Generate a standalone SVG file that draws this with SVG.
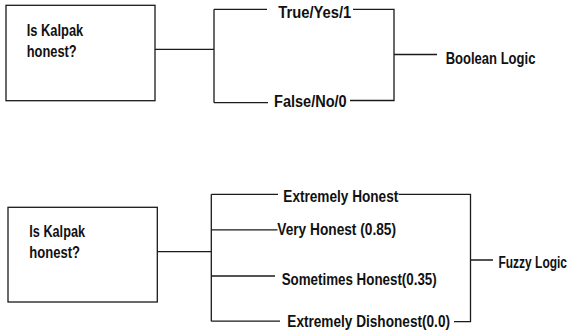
<svg xmlns="http://www.w3.org/2000/svg" width="573" height="334" viewBox="0 0 573 334">
<style>
.box{fill:#fff;stroke:#1a1a1a;stroke-width:1.3}
.ln{fill:none;stroke:#1a1a1a;stroke-width:1.3}
text{font-family:"Liberation Sans",Arial,sans-serif;font-weight:bold;font-size:16px;fill:#111}
</style>
<rect width="573" height="334" fill="#fff"/>
<g id="connectors">
<path class="ln" d="M155 49.3H214M214 9.3V102.7M214 9.3H267M214 102.7H268M353 9.3H394V100.5H350M394 54.5H437"/>
<path class="ln" d="M157 251.7H211.3M211.3 194.3V321.2M211.3 194.3H278M211.3 229.8H277.5M211.3 276H275M211.3 321.2H280M398.5 194.3H470.5V321.7H454M470.5 260H493"/>
</g>
<g id="q1">
<rect class="box" x="6" y="5.3" width="149" height="95.4"/>
<text x="26.7" y="35.5" textLength="56.6" lengthAdjust="spacingAndGlyphs">Is Kalpak</text>
<text x="26.7" y="57" textLength="50" lengthAdjust="spacingAndGlyphs">honest?</text>
</g>
<g id="true"><text x="278.3" y="17.5" textLength="73" lengthAdjust="spacingAndGlyphs">True/Yes/1</text></g>
<g id="false"><text x="274" y="107.3" textLength="72.7" lengthAdjust="spacingAndGlyphs">False/No/0</text></g>
<g id="boolean"><text x="445.7" y="64" textLength="89.7" lengthAdjust="spacingAndGlyphs">Boolean Logic</text></g>
<g id="q2">
<rect class="box" x="8" y="207.3" width="149.3" height="94.7"/>
<text x="29.3" y="236.7" textLength="55.7" lengthAdjust="spacingAndGlyphs">Is Kalpak</text>
<text x="29.3" y="258.3" textLength="50.7" lengthAdjust="spacingAndGlyphs">honest?</text>
</g>
<g id="eh"><text x="283.3" y="201.7" textLength="115" lengthAdjust="spacingAndGlyphs">Extremely Honest</text></g>
<g id="vh"><text x="277.3" y="235" textLength="118.7" lengthAdjust="spacingAndGlyphs">Very Honest (0.85)</text></g>
<g id="sh"><text x="281.7" y="285" textLength="155" lengthAdjust="spacingAndGlyphs">Sometimes Honest(0.35)</text></g>
<g id="ed"><text x="287.3" y="326.7" textLength="162.7" lengthAdjust="spacingAndGlyphs">Extremely Dishonest(0.0)</text></g>
<g id="fuzzy"><text x="498.5" y="267.7" textLength="68.5" lengthAdjust="spacingAndGlyphs">Fuzzy Logic</text></g>
</svg>
